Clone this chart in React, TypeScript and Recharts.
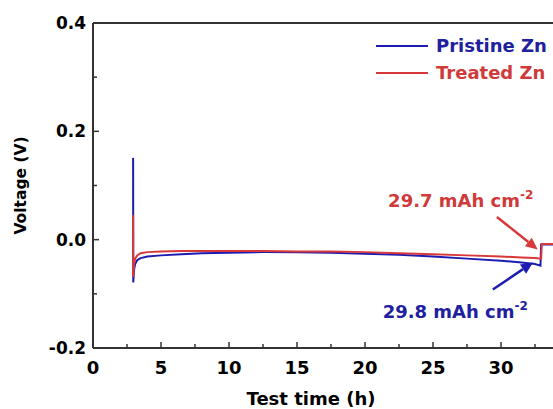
import React from 'react';
import {
  LineChart,
  Line,
  XAxis,
  YAxis,
  ReferenceLine,
  ReferenceDot,
} from 'recharts';

// test time (h) and voltage (V)
const pristineTime = [2.95, 2.96, 3.02, 3.1, 3.25, 3.5, 4, 5, 6.5, 8, 10, 12.5, 15, 17.5, 20, 22.5, 25, 27.5, 30, 31.5, 32.5, 32.9, 32.95, 35];
const pristineVoltage = [0.151, -0.079, -0.055, -0.045, -0.038, -0.034, -0.031, -0.029, -0.027, -0.025, -0.024, -0.023, -0.023, -0.024, -0.026, -0.028, -0.031, -0.035, -0.039, -0.042, -0.045, -0.048, -0.009, -0.009];

const treatedTime = [2.95, 2.96, 3.02, 3.1, 3.25, 3.5, 4, 5, 6.5, 8, 10, 12.5, 15, 17.5, 20, 22.5, 25, 27.5, 30, 31.5, 32.5, 32.95, 33.0, 35];
const treatedVoltage = [0.046, -0.069, -0.045, -0.035, -0.029, -0.025, -0.023, -0.022, -0.021, -0.021, -0.021, -0.021, -0.022, -0.022, -0.023, -0.025, -0.027, -0.029, -0.031, -0.033, -0.034, -0.035, -0.008, -0.008];

const seriesNames = ['Pristine Zn', 'Treated Zn'];
const xTicks = [0, 2.5, 5, 7.5, 10, 12.5, 15, 17.5, 20, 22.5, 25, 27.5, 30, 32.5];
const yTicks = [-0.2, -0.1, 0, 0.1, 0.2, 0.3, 0.4];

// capacity annotations: label anchor + arrow from/to, in data units
const treatedNote = { text: '29.7 mAh cm', at: [21.7, 0.061], from: [29.7, 0.042], to: [32.7, -0.018] };
const pristineNote = { text: '29.8 mAh cm', at: [21.3, -0.144], from: [29.4, -0.092], to: [32.35, -0.042] };

const BLUE = '#1c1cb2';
const RED = '#d9383a';
const BLUE_TEXT = '#2020a0';
const RED_TEXT = '#cf3a3a';
const AXIS = '#333';
const FONT = '"DejaVu Sans", sans-serif';

const pristineData = pristineTime.map((t, i) => ({ t, v: pristineVoltage[i] }));
const treatedData = treatedTime.map((t, i) => ({ t, v: treatedVoltage[i] }));

function XTick({ x, y, payload }: any) {
  const major = payload.value % 5 === 0;
  return (
    <g>
      <line x1={x} x2={x} y1={y} y2={y - (major ? 6 : 4)} stroke={AXIS} strokeWidth={1.5} />
      {major && (
        <text x={x} y={y + 26} textAnchor="middle" fontFamily={FONT} fontWeight="bold" fontSize={18} fill="#000">
          {payload.value}
        </text>
      )}
    </g>
  );
}

function YTick({ x, y, payload }: any) {
  const major = Math.round(payload.value * 10) % 2 === 0;
  return (
    <g>
      <line x1={x} x2={x + (major ? 6 : 4)} y1={y} y2={y} stroke={AXIS} strokeWidth={1.5} />
      {major && (
        <text x={x - 7} y={y + 6} textAnchor="end" fontFamily={FONT} fontWeight="bold" fontSize={17} fill="#000">
          {payload.value.toFixed(1)}
        </text>
      )}
    </g>
  );
}

const arrow = (color: string) => (p: any) => {
  const { x1, y1, x2, y2 } = p;
  const a = Math.atan2(y2 - y1, x2 - x1);
  const L = 12;
  const W = 5.5;
  const bx = x2 - L * Math.cos(a);
  const by = y2 - L * Math.sin(a);
  const pts = `${x2},${y2} ${bx - W * Math.sin(a)},${by + W * Math.cos(a)} ${bx + W * Math.sin(a)},${by - W * Math.cos(a)}`;
  return (
    <g>
      <line x1={x1} y1={y1} x2={bx} y2={by} stroke={color} strokeWidth={2.5} />
      <polygon points={pts} fill={color} />
    </g>
  );
};

const note = (text: string, color: string) => (p: any) => (
  <text x={p.cx} y={p.cy} fontFamily={FONT} fontWeight="bold" fontSize={18} fill={color}>
    {text}
    <tspan dy={-8} fontSize={12}>-2</tspan>
  </text>
);

function LegendBox() {
  const colors = [BLUE, RED];
  const textColors = [BLUE_TEXT, RED_TEXT];
  return (
    <div style={{ position: 'absolute', left: 376, top: 32, fontFamily: FONT, fontWeight: 'bold', fontSize: 18 }}>
      {seriesNames.map((name, i) => (
        <div key={name} style={{ display: 'flex', alignItems: 'center', height: 27 }}>
          <span style={{ display: 'inline-block', width: 52, height: 2, background: colors[i], marginRight: 8 }} />
          <span style={{ color: textColors[i], lineHeight: '27px', whiteSpace: 'nowrap' }}>{name}</span>
        </div>
      ))}
    </div>
  );
}

export default function App() {
  return (
    <div style={{ position: 'absolute', left: 0, top: 0, width: 553, height: 409, overflow: 'hidden', background: '#fff' }}>
      <LineChart width={579} height={409} margin={{ top: 23, right: 10, left: 10, bottom: 0 }}>
        <XAxis
          dataKey="t"
          type="number"
          domain={[0, 35]}
          ticks={xTicks}
          interval={0}
          height={61}
          tickLine={false}
          tickSize={0}
          tickMargin={0}
          tick={<XTick />}
          axisLine={{ stroke: AXIS, strokeWidth: 2 }}
          allowDuplicatedCategory={false}
          label={{
            value: 'Test time (h)',
            position: 'insideBottom',
            offset: 4,
            dx: -20,
            style: { fontFamily: FONT, fontWeight: 'bold', fontSize: 18, fill: '#000' },
          }}
        />
        <YAxis
          type="number"
          domain={[-0.2, 0.4]}
          ticks={yTicks}
          interval={0}
          width={83}
          tickLine={false}
          tickSize={0}
          tickMargin={0}
          tick={<YTick />}
          axisLine={{ stroke: AXIS, strokeWidth: 2 }}
          label={{
            value: 'Voltage (V)',
            angle: -90,
            position: 'insideLeft',
            offset: 10,
            style: { textAnchor: 'middle', fontFamily: FONT, fontWeight: 'bold', fontSize: 15.5, fill: '#000' },
          }}
        />
        <ReferenceLine y={0.4} stroke={AXIS} strokeWidth={2} />
        <Line data={pristineData} dataKey="v" name={seriesNames[0]} type="linear" stroke={BLUE} strokeWidth={2} dot={false} isAnimationActive={false} />
        <Line data={treatedData} dataKey="v" name={seriesNames[1]} type="linear" stroke={RED} strokeWidth={2} dot={false} isAnimationActive={false} />
        <ReferenceLine
          segment={[{ x: treatedNote.from[0], y: treatedNote.from[1] }, { x: treatedNote.to[0], y: treatedNote.to[1] }]}
          shape={arrow(RED)}
          ifOverflow="visible"
        />
        <ReferenceLine
          segment={[{ x: pristineNote.from[0], y: pristineNote.from[1] }, { x: pristineNote.to[0], y: pristineNote.to[1] }]}
          shape={arrow(BLUE)}
          ifOverflow="visible"
        />
        <ReferenceDot x={treatedNote.at[0]} y={treatedNote.at[1]} r={0} shape={note(treatedNote.text, RED_TEXT)} />
        <ReferenceDot x={pristineNote.at[0]} y={pristineNote.at[1]} r={0} shape={note(pristineNote.text, BLUE_TEXT)} />
      </LineChart>
      <LegendBox />
    </div>
  );
}
